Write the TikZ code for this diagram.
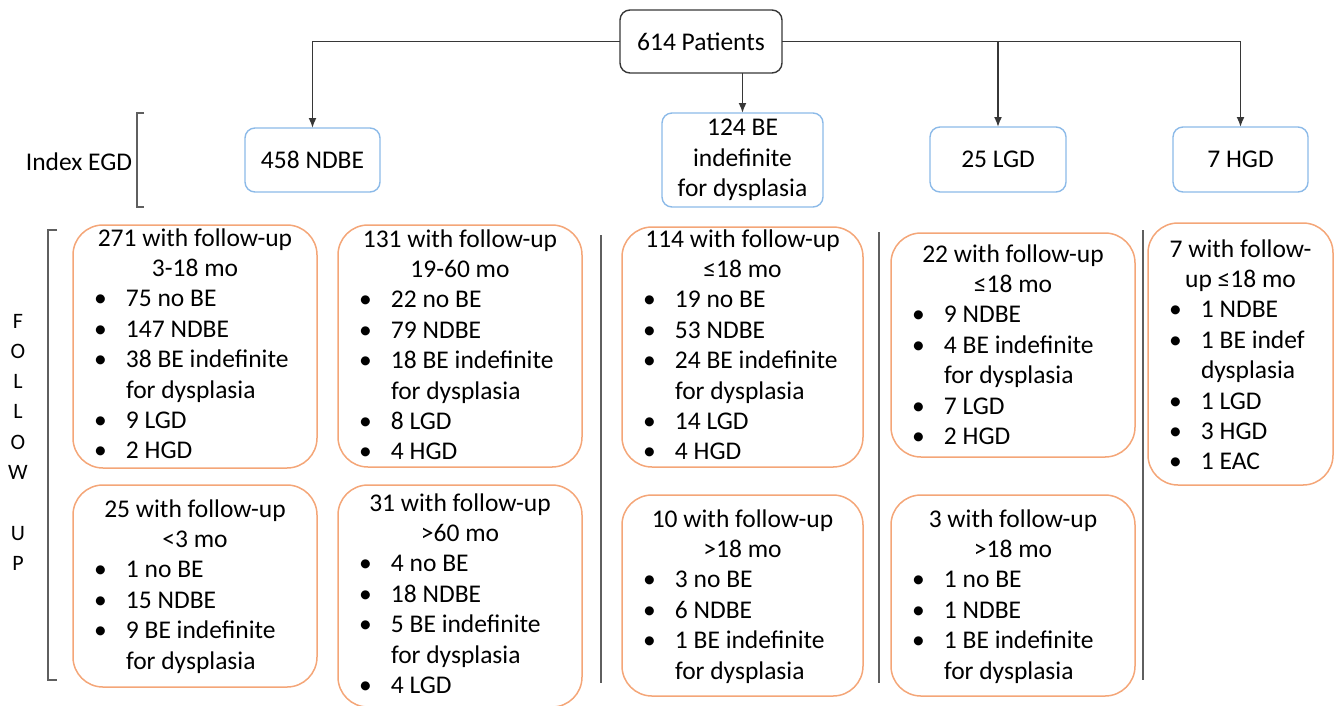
\documentclass[tikz,border=0pt]{standalone}
\usepackage{fontspec}
\setmainfont{Carlito}
\usetikzlibrary{arrows.meta,calc}
\definecolor{ob}{RGB}{244,166,120}
\definecolor{bb}{RGB}{140,186,232}
\definecolor{ln}{RGB}{55,55,55}
\definecolor{dv}{RGB}{95,95,95}
\newcommand\tline[1]{\makebox[\linewidth][c]{\strut #1}\par}
\newcommand\bline[1]{\hspace*{-1pt}\makebox[32pt][l]{\textbullet}#1\par}
\newcommand\contline[1]{\hspace*{31pt}#1\par}
\tikzset{
  every node/.style={font=\fontsize{25.5}{30.4}\selectfont, text=black},
  obox/.style={draw=ob, line width=1.5pt, rounded corners=30pt, inner sep=0pt, outer sep=0pt, anchor=north west},
  bbox/.style={draw=bb, line width=1.4pt, rounded corners=10pt, inner sep=0pt, outer sep=0pt, align=center},
  pbox/.style={draw=ln, line width=1.4pt, rounded corners=10pt, inner sep=0pt, outer sep=0pt},
  txt/.style={anchor=base west, inner sep=0pt, outer sep=0pt},
  conn/.style={draw=ln, line width=1.7pt},
  arr/.style={conn, -{Latex[length=10pt,width=8pt]}},
  brk/.style={draw=dv, line width=1.4pt},
  divl/.style={draw=dv, line width=1.5pt},
}
\begin{document}
\begin{tikzpicture}[x=1pt,y=1pt]
\useasboundingbox (0,0) rectangle (1340,-705);

% top box
\node[pbox, minimum width=162pt, minimum height=63pt] (P) at (701,-41.5) {614 Patients};

% index boxes
\node[bbox, minimum width=135pt, minimum height=64pt] (N) at (312.5,-160) {458 NDBE};
\node[bbox, minimum width=161pt, minimum height=94pt] (I) at (742.5,-160) {124 BE\\indefinite\\for dysplasia};
\node[bbox, minimum width=136pt, minimum height=65pt] (L) at (998,-159.5) {25 LGD};
\node[bbox, minimum width=135pt, minimum height=65pt] (H) at (1240.5,-159.5) {7 HGD};

% connectors
\draw[arr] (P.west) -| (N.north);
\draw[arr] (P.east) -| (H.north);
\draw[arr] (P.east) -| (L.north);
\draw[arr] (P.south -| I.north) -- (I.north);

% Index EGD label and bracket
\node[inner sep=0pt] (idx) at (79,-162) {Index EGD};
\draw[brk] (144,-113) -- (137,-113) -- (137,-207) -- (144,-207);

% Follow up label and bracket
\node[anchor=base, inner sep=0pt] (fu) at (18,-328) {\parbox[t]{24pt}{\fontsize{22}{30.3}\selectfont\centering F\\O\\L\\L\\O\\W\\\mbox{}\\U\\P}};
\draw[brk] (57,-230) -- (48,-230) -- (48,-680) -- (57,-680);

% dividers
\draw[divl] (601,-235) -- (601,-683);
\draw[divl] (879,-232) -- (879,-683);
\draw[divl] (1143,-230) -- (1143,-680);

% follow-up boxes
\node[obox, minimum width=244pt, minimum height=243pt] (A) at (73,-225) {};
\node[txt] (At) at (95,-246) {\parbox[t]{200pt}{%
\tline{271 with follow-up}\tline{3-18 mo}%
\bline{75 no BE}\bline{147 NDBE}\bline{38 BE indefinite}\contline{for dysplasia}\bline{9 LGD}\bline{2 HGD}}};

\node[obox, minimum width=244pt, minimum height=242pt] (B) at (338,-225) {};
\node[txt] (Bt) at (360,-247) {\parbox[t]{200pt}{%
\tline{131 with follow-up}\tline{19-60 mo}%
\bline{22 no BE}\bline{79 NDBE}\bline{18 BE indefinite}\contline{for dysplasia}\bline{8 LGD}\bline{4 HGD}}};

\node[obox, minimum width=244pt, minimum height=202pt] (C) at (73,-485) {};
\node[txt] (Ct) at (95,-517) {\parbox[t]{200pt}{%
\tline{25 with follow-up}\tline{<3 mo}%
\bline{1 no BE}\bline{15 NDBE}\bline{9 BE indefinite}\contline{for dysplasia}}};

\node[obox, minimum width=244pt, minimum height=222pt] (D) at (338,-485) {};
\node[txt] (Dt) at (360,-511) {\parbox[t]{200pt}{%
\tline{31 with follow-up}\tline{>60 mo}%
\bline{4 no BE}\bline{18 NDBE}\bline{5 BE indefinite}\contline{for dysplasia}\bline{4 LGD}}};

\node[obox, minimum width=241pt, minimum height=240pt] (E) at (622,-227) {};
\node[txt] (Et) at (644,-247) {\parbox[t]{197pt}{%
\tline{114 with follow-up}\tline{≤18 mo}%
\bline{19 no BE}\bline{53 NDBE}\bline{24 BE indefinite}\contline{for dysplasia}\bline{14 LGD}\bline{4 HGD}}};

\node[obox, minimum width=241pt, minimum height=201pt] (F) at (622,-495) {};
\node[txt] (Ft) at (644,-527) {\parbox[t]{197pt}{%
\tline{10 with follow-up}\tline{>18 mo}%
\bline{3 no BE}\bline{6 NDBE}\bline{1 BE indefinite}\contline{for dysplasia}}};

\node[obox, minimum width=244pt, minimum height=224pt] (G) at (891,-233) {};
\node[txt] (Gt) at (913,-262) {\parbox[t]{200pt}{%
\tline{22 with follow-up}\tline{≤18 mo}%
\bline{9 NDBE}\bline{4 BE indefinite}\contline{for dysplasia}\bline{7 LGD}\bline{2 HGD}}};

\node[obox, minimum width=244pt, minimum height=201pt] (Hb) at (891,-495) {};
\node[txt] (Ht) at (913,-527) {\parbox[t]{200pt}{%
\tline{3 with follow-up}\tline{>18 mo}%
\bline{1 no BE}\bline{1 NDBE}\bline{1 BE indefinite}\contline{for dysplasia}}};

\node[obox, minimum width=185pt, minimum height=262pt] (K) at (1148,-223) {};
\node[txt] (Kt) at (1170,-257) {\parbox[t]{141pt}{%
\tline{7 with follow-}\tline{up ≤18 mo}%
\bline{1 NDBE}\bline{1 BE indef}\contline{dysplasia}\bline{1 LGD}\bline{3 HGD}\bline{1 EAC}}};
\end{tikzpicture}
\end{document}
